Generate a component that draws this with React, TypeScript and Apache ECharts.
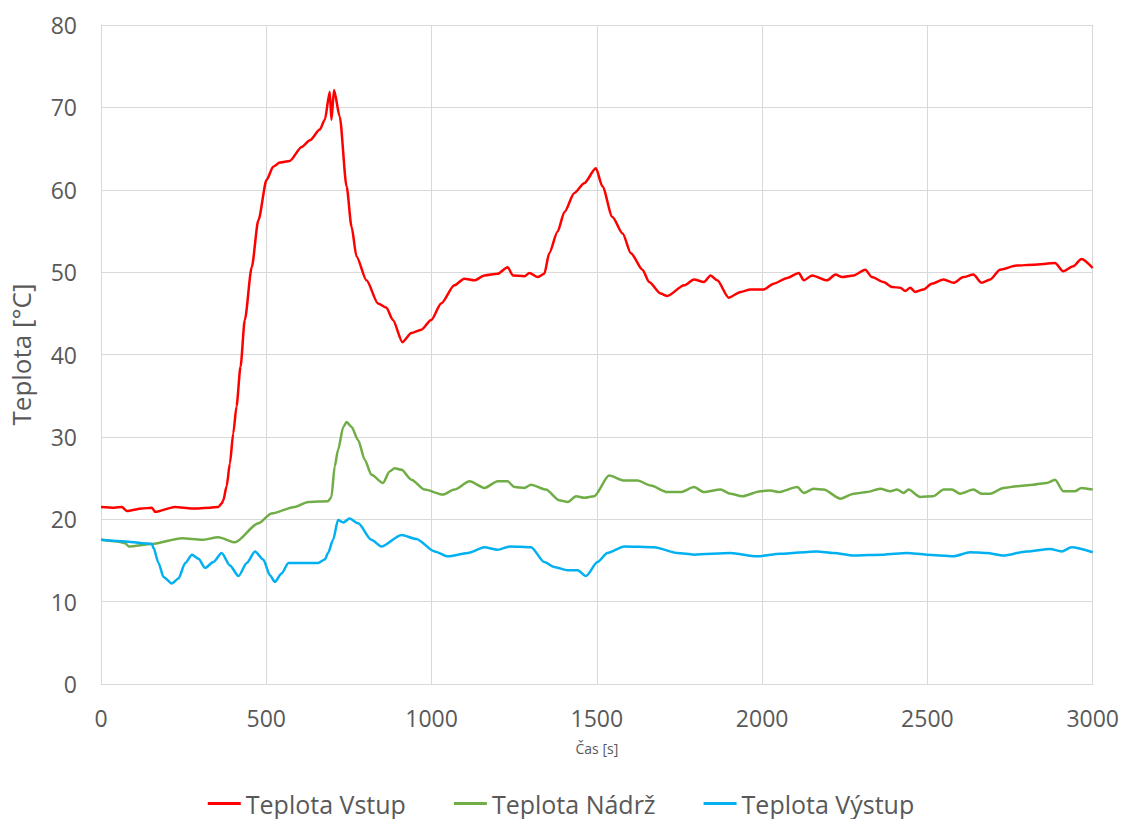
import React, { useEffect, useRef } from "react";
import * as echarts from "echarts";

const xTicks = [0, 500, 1000, 1500, 2000, 2500, 3000];

const vstupT = [0, 40, 63, 78, 124, 154, 164, 224, 275, 330, 355, 365, 370, 380, 390, 400, 410, 422, 435, 456, 476, 501, 521, 541, 571, 607, 632, 662, 677, 692, 697, 705, 722, 743, 758, 773, 803, 838, 863, 883, 912, 939, 969, 999, 1029, 1069, 1099, 1130, 1160, 1200, 1230, 1246, 1281, 1296, 1321, 1341, 1356, 1381, 1402, 1432, 1462, 1497, 1517, 1547, 1578, 1603, 1638, 1658, 1693, 1713, 1764, 1794, 1824, 1844, 1864, 1899, 1935, 1965, 2005, 2035, 2076, 2111, 2126, 2151, 2196, 2222, 2242, 2277, 2312, 2332, 2367, 2393, 2418, 2433, 2448, 2463, 2488, 2513, 2549, 2579, 2609, 2639, 2664, 2690, 2720, 2770, 2820, 2886, 2911, 2941, 2966, 3000];
const vstupV = [21.5, 21.4, 21.5, 21.0, 21.3, 21.4, 20.9, 21.5, 21.3, 21.4, 21.5, 21.9, 22.3, 24.0, 26.8, 30.4, 33.7, 38.5, 44.2, 50.6, 56.3, 61.2, 62.8, 63.3, 63.5, 65.2, 66.0, 67.3, 68.5, 71.9, 68.5, 72.1, 68.9, 60.4, 55.5, 51.9, 49.0, 46.2, 45.7, 44.2, 41.5, 42.6, 43.0, 44.2, 46.2, 48.4, 49.2, 49.0, 49.6, 49.8, 50.6, 49.6, 49.5, 49.9, 49.4, 49.8, 52.3, 54.9, 57.3, 59.6, 60.8, 62.6, 60.4, 56.7, 54.7, 52.3, 50.3, 48.8, 47.4, 47.1, 48.4, 49.1, 48.8, 49.6, 49.0, 46.9, 47.6, 47.9, 47.9, 48.6, 49.3, 49.9, 49.0, 49.6, 49.0, 49.7, 49.4, 49.6, 50.3, 49.4, 48.8, 48.2, 48.1, 47.7, 48.1, 47.6, 47.9, 48.6, 49.1, 48.7, 49.4, 49.7, 48.7, 49.1, 50.3, 50.8, 50.9, 51.1, 50.1, 50.7, 51.6, 50.5];

const nadrzT = [0, 50, 73, 84, 154, 245, 305, 355, 405, 476, 516, 586, 627, 687, 697, 707, 717, 733, 743, 758, 778, 798, 818, 853, 873, 888, 909, 939, 979, 1034, 1069, 1115, 1160, 1200, 1230, 1251, 1281, 1301, 1346, 1386, 1412, 1437, 1462, 1492, 1537, 1583, 1623, 1663, 1713, 1754, 1794, 1824, 1874, 1904, 1940, 1995, 2025, 2050, 2106, 2126, 2156, 2186, 2237, 2277, 2317, 2357, 2388, 2408, 2428, 2443, 2478, 2518, 2549, 2574, 2599, 2639, 2664, 2690, 2730, 2770, 2820, 2861, 2886, 2911, 2946, 2966, 3000];
const nadrzV = [17.5, 17.3, 17.1, 16.7, 17.0, 17.7, 17.5, 17.8, 17.2, 19.5, 20.7, 21.5, 22.1, 22.2, 22.7, 26.4, 28.4, 31.2, 31.8, 31.2, 29.6, 27.2, 25.4, 24.4, 25.8, 26.2, 26.0, 24.8, 23.6, 23.0, 23.6, 24.6, 23.8, 24.6, 24.6, 23.9, 23.8, 24.2, 23.6, 22.3, 22.1, 22.8, 22.6, 22.8, 25.3, 24.7, 24.7, 24.1, 23.3, 23.3, 23.9, 23.3, 23.6, 23.1, 22.8, 23.4, 23.5, 23.3, 23.9, 23.2, 23.7, 23.6, 22.5, 23.1, 23.3, 23.7, 23.4, 23.6, 23.2, 23.6, 22.7, 22.8, 23.6, 23.6, 23.1, 23.6, 23.1, 23.1, 23.8, 24.0, 24.2, 24.4, 24.8, 23.4, 23.4, 23.8, 23.6];

const vystupT = [0, 73, 124, 154, 159, 174, 189, 214, 234, 255, 275, 295, 315, 340, 365, 390, 416, 441, 466, 491, 511, 526, 546, 567, 657, 677, 687, 702, 717, 733, 752, 778, 818, 848, 909, 954, 1009, 1049, 1110, 1160, 1200, 1236, 1301, 1341, 1371, 1412, 1442, 1467, 1502, 1532, 1583, 1673, 1744, 1794, 1904, 1985, 2056, 2166, 2216, 2277, 2367, 2438, 2498, 2579, 2629, 2679, 2730, 2800, 2871, 2906, 2936, 3000];
const vystupV = [17.5, 17.3, 17.1, 17.0, 16.5, 14.7, 13.0, 12.2, 12.8, 14.7, 15.7, 15.2, 14.1, 14.8, 15.9, 14.4, 13.1, 14.7, 16.1, 15.1, 13.2, 12.4, 13.4, 14.7, 14.7, 15.1, 15.9, 17.5, 19.9, 19.6, 20.1, 19.5, 17.5, 16.7, 18.1, 17.6, 16.1, 15.5, 15.9, 16.6, 16.3, 16.7, 16.6, 14.8, 14.2, 13.8, 13.8, 13.1, 14.8, 15.9, 16.7, 16.6, 15.9, 15.7, 15.9, 15.5, 15.8, 16.1, 15.9, 15.6, 15.7, 15.9, 15.7, 15.5, 16.0, 15.9, 15.6, 16.1, 16.4, 16.1, 16.6, 16.0];

const seriesNames = ["Teplota Vstup", "Teplota Nádrž", "Teplota Výstup"];
const seriesColors = ["#FF0000", "#70AD47", "#00B0F0"];

const zip = (t: number[], v: number[]) => t.map((x, i) => [x, v[i]]);

export default function App() {
  const ref = useRef<HTMLDivElement>(null);
  useEffect(() => {
    document.body.style.margin = "0";
    document.body.style.overflow = "hidden";
    if (!ref.current) return;
    const chart = echarts.init(ref.current, null, { renderer: "svg" });
    const font = "'Open Sans', 'Noto Sans', sans-serif";
    const data = [zip(vstupT, vstupV), zip(nadrzT, nadrzV), zip(vystupT, vystupV)];
    chart.setOption({
      animation: false,
      backgroundColor: "#FFFFFF",
      textStyle: { fontFamily: font },
      grid: { left: 99, right: 29, top: 25, bottom: 135, containLabel: false },
      legend: {
        top: 791,
        left: "center",
        padding: 0,
        icon: "rect",
        itemWidth: 33,
        itemHeight: 3,
        itemGap: 48,
        textStyle: { fontSize: 25, lineHeight: 25, color: "#595959", fontFamily: font },
        data: seriesNames,
      },
      xAxis: {
        type: "value",
        min: xTicks[0],
        max: xTicks[xTicks.length - 1],
        interval: 500,
        name: "Čas [s]",
        nameLocation: "middle",
        nameGap: 57,
        nameTextStyle: { fontSize: 14, color: "#595959" },
        axisLine: { show: true, lineStyle: { color: "#D9D9D9", width: 1 } },
        axisTick: { show: false },
        axisLabel: { fontSize: 23, color: "#595959", margin: 22, formatter: (v: number) => String(v) },
        splitLine: { show: true, lineStyle: { color: "#D9D9D9", width: 1 } },
      },
      yAxis: {
        type: "value",
        min: 0,
        max: 80,
        interval: 10,
        name: "Teplota [°C]",
        nameLocation: "middle",
        nameGap: 67,
        nameTextStyle: { fontSize: 26, color: "#595959" },
        axisLine: { show: true, lineStyle: { color: "#D9D9D9", width: 1 } },
        axisTick: { show: false },
        axisLabel: { fontSize: 23, color: "#595959", margin: 24 },
        splitLine: { show: true, lineStyle: { color: "#D9D9D9", width: 1 } },
      },
      series: seriesNames.map((name, i) => ({
        name,
        type: "line",
        data: data[i],
        showSymbol: false,
        symbol: "none",
        smooth: 0.25,
        smoothMonotone: "x",
        color: seriesColors[i],
        lineStyle: { color: seriesColors[i], width: 2.5 },
      })),
    });
    return () => chart.dispose();
  }, []);
  return <div ref={ref} style={{ width: 1122, height: 819 }} />;
}
